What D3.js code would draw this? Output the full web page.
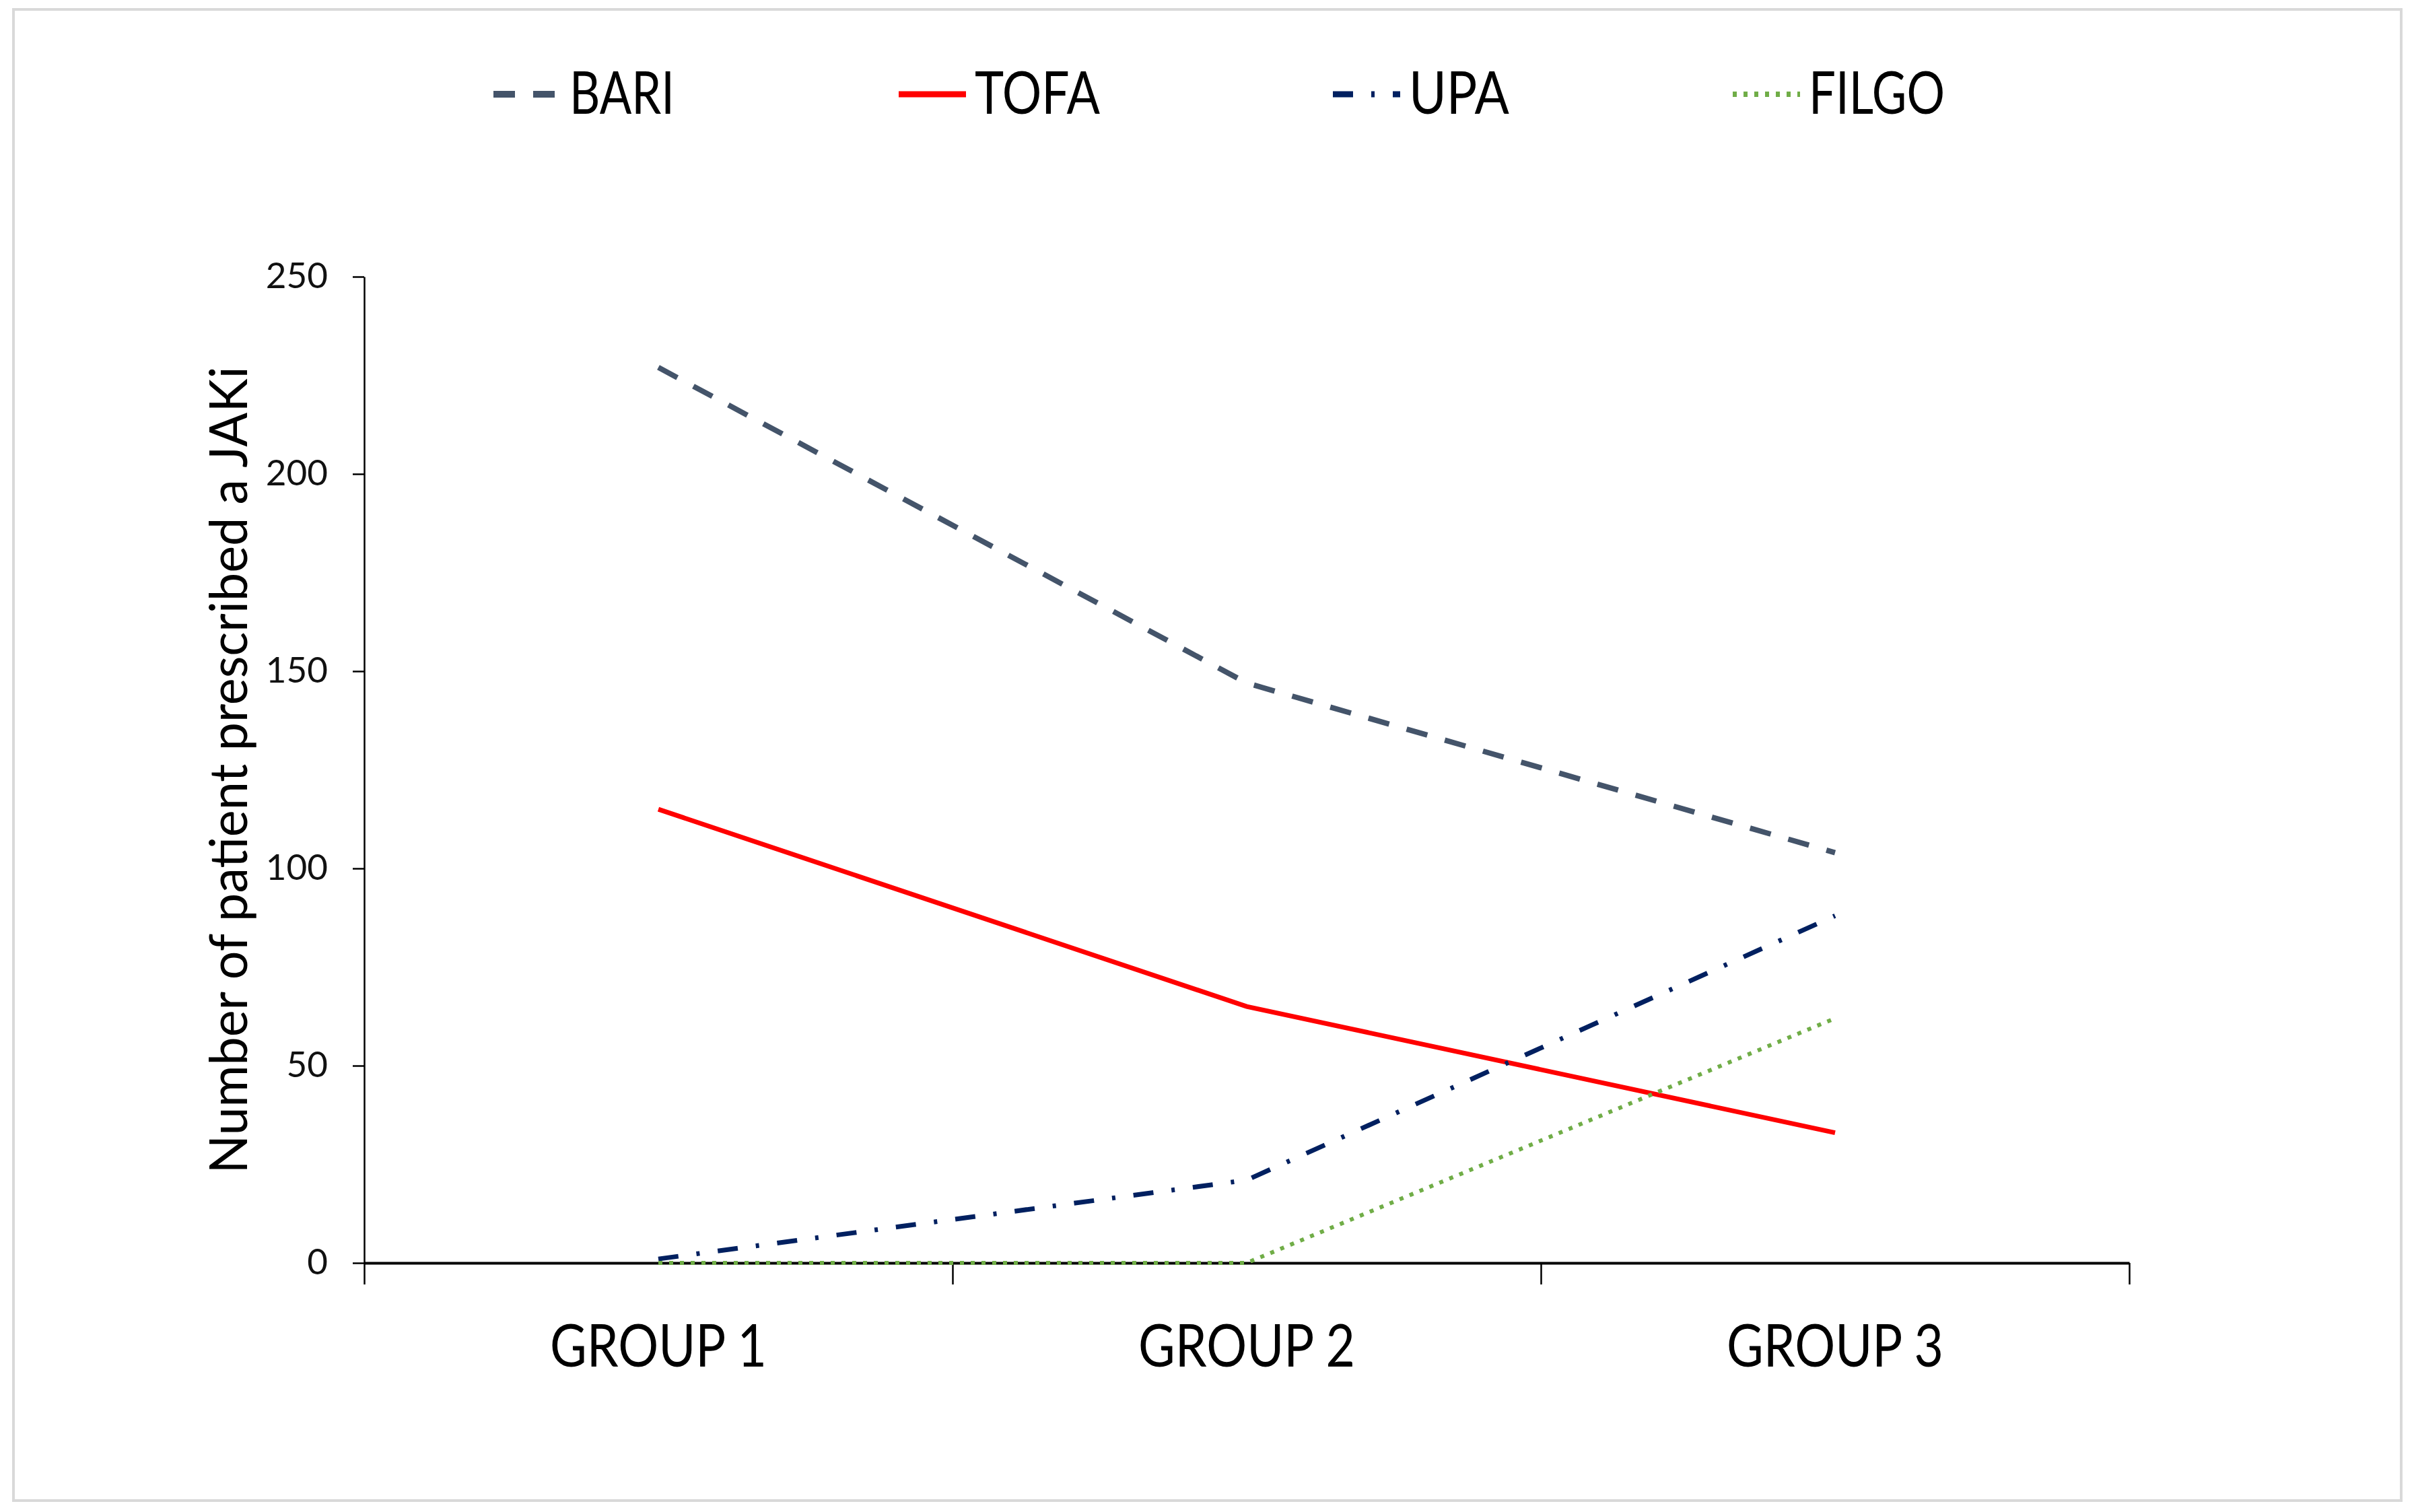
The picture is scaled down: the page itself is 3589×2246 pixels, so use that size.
<!DOCTYPE html>
<html>
<head>
<meta charset="utf-8">
<script src="https://cdn.jsdelivr.net/npm/d3@7"></script>
<style>
  html, body { margin: 0; padding: 0; background: #fff; }
  svg { display: block; }
</style>
</head>
<body>
<div class="canvas"></div>
<script>
// Data
var groups = ['GROUP 1', 'GROUP 2', 'GROUP 3'],
    seriesNames = ['BARI', 'TOFA', 'UPA', 'FILGO'],
    bari = [227, 147, 104],
    tofa = [115, 65, 33],
    upa = [1, 21, 88],
    filgo = [0, 0, 62],
    yTicks = [0, 50, 100, 150, 200, 250];

var seriesValues = [bari, tofa, upa, filgo];

// Styles (by series order)
var colors = ['#44546A', '#FF0000', '#002060', '#70AD47'],
    dashes = ['32,27', null, '30,27,5,27', '6,10'],
    widths = [8, 7, 7, 6];

// Config
var width = 3589,
    height = 2246,
    plotLeft = 541,
    plotRight = 3163,
    plotTop = 411,
    plotBottom = 1876,
    font = 'Lato, "Open Sans", sans-serif';

var svg = d3.select('.canvas').append('svg')
    .attr('width', width)
    .attr('height', height);

// outer frame
svg.append('rect')
    .attr('x', 20).attr('y', 14)
    .attr('width', 3547).attr('height', 2215)
    .attr('fill', '#fff')
    .attr('stroke', '#d9d9d9')
    .attr('stroke-width', 4);

var x = d3.scaleBand().domain(groups).range([plotLeft, plotRight]),
    xEdge = d3.scaleLinear().domain([0, groups.length]).range([plotLeft, plotRight]),
    y = d3.scaleLinear().domain([0, 250]).range([plotBottom, plotTop]);

// y axis
var yAxis = svg.append('g')
    .attr('transform', 'translate(' + plotLeft + ',0)')
    .call(d3.axisLeft(y).tickValues(yTicks).tickSize(17).tickSizeOuter(0).tickPadding(37));
yAxis.select('.domain').attr('stroke', '#000').attr('stroke-width', 2.5);
yAxis.selectAll('.tick line').attr('stroke', '#000').attr('stroke-width', 2.5);
yAxis.selectAll('.tick text')
    .attr('font-family', font)
    .attr('font-size', 53)
    .attr('fill', '#111');

// x axis: boundary ticks
var xAxis = svg.append('g')
    .attr('transform', 'translate(0,' + plotBottom + ')')
    .call(d3.axisBottom(xEdge).ticks(groups.length).tickSize(32).tickSizeOuter(0).tickFormat(''));
xAxis.select('.domain').attr('stroke', '#000').attr('stroke-width', 4);
xAxis.selectAll('.tick line').attr('stroke', '#000').attr('stroke-width', 2.5);

// category labels
svg.append('g').selectAll('text')
    .data(groups)
    .enter()
    .append('text')
    .attr('x', function (d) {return x(d) + x.bandwidth() / 2})
    .attr('y', 2030)
    .attr('text-anchor', 'middle')
    .attr('font-family', font)
    .attr('font-size', 88)
    .attr('textLength', 322)
    .attr('lengthAdjust', 'spacingAndGlyphs')
    .attr('fill', '#000')
    .text(function (d) {return d});

// y title
svg.append('text')
    .attr('transform', 'translate(367,1144) rotate(-90)')
    .attr('text-anchor', 'middle')
    .attr('font-family', font)
    .attr('font-size', 77)
    .attr('textLength', 1199)
    .attr('lengthAdjust', 'spacingAndGlyphs')
    .attr('fill', '#000')
    .text('Number of patient prescribed a JAKi');

// lines
var line = d3.line()
    .x(function (d, i) {return x(groups[i]) + x.bandwidth() / 2})
    .y(function (d) {return y(d)});

svg.append('g').selectAll('path')
    .data(seriesValues)
    .enter()
    .append('path')
    .attr('d', function (d) {return line(d)})
    .attr('fill', 'none')
    .attr('stroke', function (d, i) {return colors[i]})
    .attr('stroke-width', function (d, i) {return widths[i]})
    .attr('stroke-dasharray', function (d, i) {return dashes[i]});

// legend
var legendX = [733, 1335, 1980, 2574],
    legendTextW = [156, 186, 149, 202],
    legendY = 140;

var legend = svg.append('g').selectAll('g')
    .data(seriesNames)
    .enter()
    .append('g')
    .attr('transform', function (d, i) {return 'translate(' + legendX[i] + ',' + legendY + ')'});

legend.append('line')
    .attr('x1', 0).attr('x2', 100)
    .attr('y1', 0).attr('y2', 0)
    .attr('stroke', function (d, i) {return colors[i]})
    .attr('stroke-width', function (d, i) {return widths[i] + 2})
    .attr('stroke-dasharray', function (d, i) {return dashes[i]});

legend.append('text')
    .attr('x', 113)
    .attr('y', 29)
    .attr('font-family', font)
    .attr('font-size', 87)
    .attr('textLength', function (d, i) {return legendTextW[i]})
    .attr('lengthAdjust', 'spacingAndGlyphs')
    .attr('fill', '#000')
    .text(function (d) {return d});
</script>
</body>
</html>
